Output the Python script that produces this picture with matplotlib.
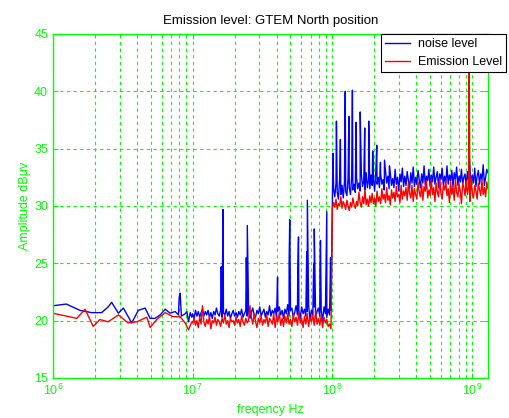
import numpy as np
import matplotlib
matplotlib.use("Agg")
import matplotlib.pyplot as plt
from matplotlib.ticker import LogLocator

GREEN = "#00ff00"
plt.rcParams["font.family"] = ["Liberation Sans", "DejaVu Sans"]

# ---- data ----------------------------------------------------------------
# 1 MHz .. 10 MHz: sparse sweep points (frequency in MHz, level dBuV)
noise_a_mhz = [1.00, 1.245, 1.56, 1.89, 2.23, 2.48, 2.63, 2.94, 3.19, 3.66, 4.08,
               4.57, 4.96, 5.38, 5.85, 6.35, 6.90, 7.49, 7.91, 8.0, 8.13, 8.3,
               8.83, 9.08, 9.33, 9.6, 9.85]
noise_a = [21.3, 21.45, 20.9, 20.7, 20.7, 21.2, 21.6, 20.65, 21.1, 19.8, 20.9,
           21.1, 20.2, 20.2, 20.5, 21.0, 20.65, 20.8, 20.5, 22.0, 22.4, 20.4,
           20.6, 20.8, 19.9, 20.7, 20.3]
emis_a_mhz = [1.00, 1.48, 1.695, 1.94, 2.17, 2.48, 2.94, 3.45, 3.98, 4.70, 4.96,
              5.53, 6.35, 7.23, 8.13, 8.83, 9.33, 9.85]
emis_a = [20.65, 20.2, 21.0, 19.5, 20.1, 19.9, 20.5, 19.8, 19.9, 20.3, 19.4,
          20.1, 20.7, 20.35, 20.35, 19.8, 19.2, 19.9]

# 10 MHz .. 100 MHz: dense sweep
noise_b = [
    20.6, 20.2, 20.9, 20.4, 20.8, 20.3, 20.7, 21.0, 20.4, 20.8,
    20.5, 20.9, 20.3, 20.7, 20.2, 20.8, 20.5, 21.1, 20.6, 20.4,
    20.9, 20.3, 20.7, 20.5, 21.0, 20.4, 20.8, 20.2, 20.6, 20.9,
    20.4, 20.7, 20.3, 20.8, 20.5, 21.0, 20.3, 20.6, 20.9, 20.4,
    20.8, 20.2, 20.7, 21.1, 20.5, 20.3, 20.9, 20.6, 21.2, 20.4,
    20.7, 21.0, 20.3, 20.8, 20.5, 21.3, 20.4, 20.9, 20.6, 21.1,
    20.3, 20.8, 21.2, 20.5, 20.9, 20.2, 21.0, 20.6, 21.4, 20.4,
    20.9, 21.1, 20.3, 20.7, 21.3, 20.5, 20.9, 20.2, 21.2, 20.6,
    21.0, 20.4, 20.8, 21.3, 20.1, 20.9, 20.5, 21.2, 20.3, 20.8,
    21.1, 20.4, 20.9, 20.0, 21.2, 20.6, 20.3, 21.0, 20.5, 20.9,
]
emis_b = [
    19.8, 20.2, 19.6, 20.0, 19.4, 20.3, 19.7, 21.3, 19.9, 19.5,
    20.1, 19.7, 20.4, 19.3, 20.0, 19.8, 20.3, 19.6, 20.1, 19.9,
    19.5, 20.2, 19.8, 20.5, 19.7, 20.0, 19.4, 20.2, 19.9, 20.0,
    19.6, 20.3, 19.8, 20.1, 19.5, 20.4, 19.9, 19.6, 20.2, 19.8,
    20.0, 21.3, 20.3, 19.7, 20.6, 19.9, 19.4, 20.2, 19.8, 20.4,
    19.6, 20.1, 19.8, 20.5, 19.5, 20.2, 20.0, 19.7, 20.6, 19.4,
    20.3, 19.9, 20.7, 19.6, 20.2, 19.5, 20.4, 19.8, 20.6, 19.7,
    20.1, 19.5, 20.5, 19.9, 20.3, 19.6, 20.7, 19.8, 20.2, 19.4,
    20.4, 19.7, 20.6, 19.5, 20.3, 19.9, 20.5, 19.6, 20.8, 19.7,
    20.2, 19.6, 20.5, 19.4, 20.3, 19.8, 20.1, 19.5, 19.7, 19.3,
]

# 100 MHz .. 1.3 GHz: dense sweep
noise_c = [
    30.2, 31.5, 30.8, 32.0, 31.2, 30.6, 32.3, 31.0, 31.8, 30.7,
    32.1, 31.3, 30.9, 32.4, 31.6, 31.0, 32.6, 31.4, 31.9, 31.2,
    32.5, 31.5, 32.0, 31.3, 32.8, 31.7, 32.2, 31.4, 32.9, 31.6,
    32.3, 31.5, 32.7, 31.8, 32.4, 31.3, 33.0, 31.9, 32.5, 31.6,
    32.8, 31.9, 32.3, 31.4, 33.1, 32.0, 32.6, 31.5, 32.9, 31.8,
    32.4, 31.6, 33.2, 31.9, 32.5, 31.3, 32.8, 32.1, 33.3, 31.7,
    32.6, 31.8, 33.0, 32.2, 31.5, 32.9, 32.0, 33.4, 31.7, 32.5,
    31.9, 33.1, 32.3, 31.6, 32.8, 32.0, 33.5, 31.8, 32.6, 32.2,
    33.2, 31.7, 32.7, 32.1, 33.4, 31.9, 32.5, 33.0, 31.6, 32.8,
    32.3, 33.3, 31.8, 32.6, 32.0, 33.5, 31.9, 32.7, 32.2, 33.1,
    31.7, 32.9, 32.3, 33.4, 31.8, 32.6, 32.1, 33.2, 31.9, 32.5,
    32.8, 31.6, 33.0, 32.2, 33.5, 31.8, 32.7, 32.0, 33.3, 31.7,
    32.6, 33.1, 31.9, 32.8, 32.3, 33.6, 31.8, 32.5, 33.2, 32.9,
]
emis_c = [
    29.8, 30.3, 29.9, 30.6, 29.7, 30.2, 30.0, 30.8, 29.8, 30.4,
    30.1, 29.7, 30.5, 30.0, 29.6, 30.3, 29.9, 30.7, 30.1, 29.8,
    30.4, 30.0, 31.2, 30.3, 29.9, 30.8, 30.2, 31.4, 30.1, 30.6,
    30.0, 30.9, 30.3, 31.1, 30.2, 30.7, 30.0, 31.3, 30.4, 30.8,
    30.2, 31.5, 30.6, 31.0, 30.3, 31.6, 30.5, 30.9, 30.1, 31.4,
    30.7, 31.2, 30.4, 31.7, 30.8, 31.0, 30.3, 31.8, 30.6, 31.3,
    30.9, 31.6, 30.5, 32.0, 31.1, 30.7, 31.8, 30.4, 31.5, 31.0,
    30.6, 32.1, 31.2, 30.8, 31.9, 30.5, 31.7, 31.3, 32.2, 30.7,
    31.4, 30.9, 32.3, 31.0, 31.6, 30.4, 32.0, 31.2, 30.8, 32.4,
    31.1, 30.6, 31.8, 31.4, 32.2, 30.9, 31.5, 30.3, 32.1, 31.0,
    31.7, 30.5, 32.3, 31.2, 30.8, 31.9, 31.3, 30.2, 32.0, 31.6,
    30.9, 32.2, 31.0, 31.7, 30.4, 32.4, 31.1, 30.7, 31.8, 31.3,
    30.6, 32.0, 31.4, 30.9, 32.3, 31.0, 31.6, 30.8, 32.1, 31.5,
]

# narrow-band peaks (frequency in MHz, level dBuV)
noise_peak_mhz = [16.0, 16.5, 24.2, 24.6, 40.5, 49.0, 49.5, 56.5, 57.2, 65.5, 66.2,
                  73.5, 74.2, 81.5, 82.2, 90.5, 91.2, 97.0,
                  101, 106.9, 114.1, 123.6, 131.3, 139.1, 147.9, 158.2, 170.4,
                  182.0, 194.4, 207.8, 220.8, 236.0, 256.0, 950.0]
noise_peak = [24.7, 29.7, 25.5, 28.3, 23.8, 25.0, 28.8, 24.5, 27.3, 26.0, 30.5,
              25.0, 28.0, 24.8, 27.0, 26.5, 29.5, 25.5,
              34.6, 37.4, 35.8, 40.0, 37.8, 40.1, 37.3, 38.2, 36.8,
              37.4, 34.8, 35.3, 33.8, 34.0, 33.5, 34.6]
emis_peak_mhz = [950.0]
emis_peak = [46.0]


def series(a_mhz, a_val, b_val, c_val, pk_mhz, pk_val):
    f = np.concatenate([
        np.array(a_mhz) * 1e6,
        np.logspace(7, 8, len(b_val), endpoint=False),
        np.logspace(8, np.log10(1.3e9), len(c_val)),
        np.array(pk_mhz) * 1e6,
    ])
    v = np.concatenate([a_val, b_val, c_val, pk_val])
    order = np.argsort(f, kind="stable")
    return f[order], v[order]


f_noise, v_noise = series(noise_a_mhz, noise_a, noise_b, noise_c, noise_peak_mhz, noise_peak)
f_emis, v_emis = series(emis_a_mhz, emis_a, emis_b, emis_c, emis_peak_mhz, emis_peak)

# ---- plot -------------------------------------------------------------------
fig = plt.figure(figsize=(5.09, 4.18), dpi=100)
ax = fig.add_axes([53 / 509, 1 - 378 / 418, 435 / 509, 344 / 418])

ax.semilogx(f_noise, v_noise, color="#0000ff", lw=1.0, label="noise level")
ax.semilogx(f_emis, v_emis, color="#ff0000", lw=1.0, label="Emission Level")

ax.set_xlim(1e6, 1.3e9)
ax.set_ylim(15, 45)
ax.set_yticks([15, 20, 25, 30, 35, 40, 45])
ax.xaxis.set_major_locator(LogLocator(base=10, numticks=10))
ax.xaxis.set_minor_locator(LogLocator(base=10, subs=np.arange(2, 10), numticks=20))

ax.grid(True, which="major", color=GREEN, linestyle=(0, (3, 3)), linewidth=0.8)
ax.grid(True, which="minor", axis="x", color=GREEN, linestyle=(0, (3, 3)), linewidth=0.8)
for s in ax.spines.values():
    s.set_color(GREEN)
    s.set_linewidth(1.0)
ax.tick_params(which="both", direction="in", colors=GREEN, top=True, right=True,
               labelsize=9)
ax.tick_params(which="minor", labelbottom=False)

ax.set_title("Emission level: GTEM North position", fontsize=9.5, color="black", pad=7)
ax.set_xlabel("freqency Hz", color=GREEN, fontsize=9, labelpad=4)
ax.set_ylabel("Amplitude dBμv", color=GREEN, fontsize=9, labelpad=2)

leg = ax.legend(loc="upper left", bbox_to_anchor=(381 / 509, 1 - 34 / 418),
                bbox_transform=fig.transFigure, fontsize=9, fancybox=False,
                framealpha=1, edgecolor="black", borderpad=0.35, handlelength=2.0,
                handletextpad=0.6, labelspacing=0.45, borderaxespad=0)
leg.get_frame().set_linewidth(0.8)

fig.savefig("out.png", dpi=100)
